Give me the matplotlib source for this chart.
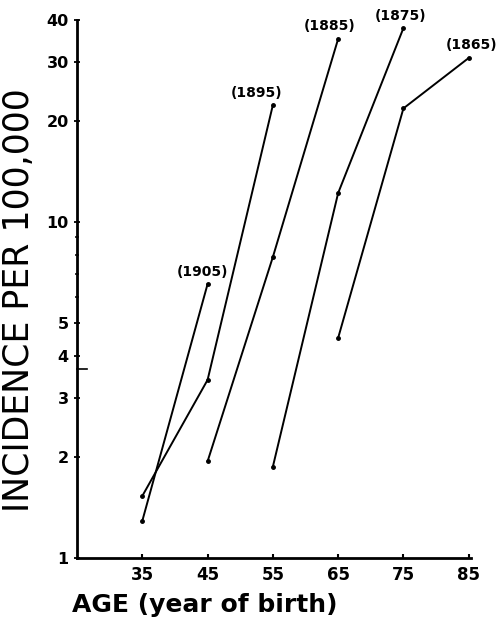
import matplotlib
matplotlib.use("Agg")
import matplotlib.pyplot as plt
from matplotlib.ticker import FixedLocator, NullFormatter

# Data: age at diagnosis vs incidence per 100,000, by birth cohort
ages = [35, 45, 55, 65, 75, 85]
cohorts = ["(1905)", "(1895)", "(1885)", "(1875)", "(1865)"]
cohort_ages = [
    [35, 45],
    [35, 45, 55],
    [45, 55, 65],
    [55, 65, 75],
    [65, 75, 85],
]
cohort_values = [
    [1.29, 6.54],
    [1.53, 3.39, 22.3],
    [1.94, 7.87, 35.1],
    [1.87, 12.2, 37.8],
    [4.52, 21.8, 30.8],
]
ytick_values = [1, 2, 3, 4, 5, 10, 20, 30, 40]
ytick_labels = ["1", "2", "3", "4", "5", "10", "20", "30", "40"]
yminor_values = [6, 7, 8, 9]
xtick_labels = ["35", "45", "55", "65", "75", "85"]

fig = plt.figure(figsize=(4.97, 6.2), dpi=100)
ax = fig.add_axes([0.155, 0.1, 0.792, 0.868])

for xs, ys in zip(cohort_ages, cohort_values):
    ax.plot(xs, ys, color="black", lw=1.4, marker="o", ms=2.5)

offsets = [(-4, 9), (-12, 9), (-6, 9), (-2, 9), (2, 9)]
for name, xs, ys, off in zip(cohorts, cohort_ages, cohort_values, offsets):
    ax.annotate(name, (xs[-1], ys[-1]), xytext=off, textcoords="offset points",
                ha="center", va="center", fontsize=10, fontweight="bold")

ax.set_yscale("log")
ax.set_ylim(1, 40)
ax.set_xlim(25, 85.3)
ax.yaxis.set_major_locator(FixedLocator(ytick_values))
ax.set_yticklabels(ytick_labels)
ax.yaxis.set_minor_locator(FixedLocator(yminor_values))
ax.yaxis.set_minor_formatter(NullFormatter())
ax.set_xticks(ages)
ax.set_xticklabels(xtick_labels)

for s in ["top", "right"]:
    ax.spines[s].set_visible(False)
for s in ["left", "bottom"]:
    ax.spines[s].set_linewidth(2)

ax.tick_params(axis="y", which="major", direction="inout", length=4, width=1.3,
               labelsize=11.5, pad=4)
ax.tick_params(axis="y", which="minor", direction="inout", length=3, width=1.1)
ax.tick_params(axis="x", direction="in", length=3, width=1.5, labelsize=12, pad=6)
for lab in ax.get_xticklabels() + ax.get_yticklabels():
    lab.set_fontweight("bold")

# small stray dash just right of the y axis, as in the reference
ax.plot([0.0, 0.025], [3.65, 3.65], color="black", lw=1.2,
        transform=ax.get_yaxis_transform(), clip_on=False)

ax.set_ylabel("INCIDENCE PER 100,000", fontsize=25)
ax.yaxis.set_label_coords(-0.104, 0.48)
ax.set_xlabel("AGE (year of birth)", fontsize=18, fontweight="bold")
ax.xaxis.set_label_coords(0.325, -0.065)

fig.savefig("out.png", dpi=100)
